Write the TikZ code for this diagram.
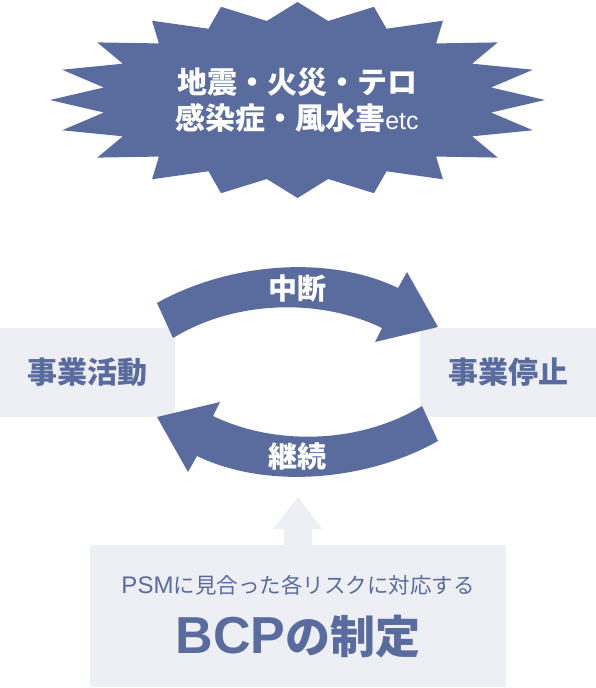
\documentclass[tikz,border=0pt]{standalone}
\usepackage{fontspec}
\newfontfamily\jpfont{Noto Sans CJK JP}
\newfontfamily\lsfont{Liberation Sans}
\definecolor{bcpblue}{RGB}{90,108,158}
\definecolor{bcppale}{RGB}{238,239,245}

\begin{document}
\begin{tikzpicture}[x=1pt,y=-1pt,
    pale/.style={fill=bcppale,inner sep=0pt},
    heavy/.style={font=\jpfont\bfseries\fontsize{30}{36}\selectfont,inner sep=0pt},
    light/.style={font=\jpfont\fontsize{21.5}{24}\selectfont,inner sep=0pt}]
    \useasboundingbox (0,0) rectangle (596,688);

    % hazard burst
    \begin{scope}[shift={(297.5,100)}]
        \fill[bcpblue] (0:247.5 and 98)
            \foreach \a in {0,18,...,342} { -- ({\a+9}:196 and 80) -- ({\a+18}:247.5 and 98) } -- cycle;
    \end{scope}
    \node[heavy,text=white,align=center] (hazard) at (297,100)
        {地震・火災・テロ\\感染症・風水害{\lsfont\mdseries\fontsize{25}{36}\selectfont etc}};

    % states
    \node[pale,minimum width=175pt,minimum height=89pt] (running) at (87.5,372.5) {};
    \node[heavy,text=bcpblue] (runninglabel) at (running) {事業活動};
    \node[pale,minimum width=176pt,minimum height=89pt] (stopped) at (508,372.5) {};
    \node[heavy,text=bcpblue] (stoppedlabel) at (stopped) {事業停止};

    % interrupt / resume arrows
    \fill[bcpblue] (157,303) .. controls (230,262) and (330,255) .. (398,288)
        -- (407,272) -- (438,327) -- (375,342) -- (382,328)
        .. controls (320,298) and (235,300) .. (173,338) -- cycle;
    \begin{scope}[rotate around={180:(297.5,372)}]
        \fill[bcpblue] (157,303) .. controls (230,262) and (330,255) .. (398,288)
            -- (407,272) -- (438,327) -- (375,342) -- (382,328)
            .. controls (320,298) and (235,300) .. (173,338) -- cycle;
    \end{scope}
    \node[heavy,text=white,font=\jpfont\bfseries\fontsize{29}{30}\selectfont] (cut) at (297,288) {中断};
    \node[heavy,text=white,font=\jpfont\bfseries\fontsize{29}{30}\selectfont] (keep) at (297,456) {継続};

    % plan
    \node[pale,minimum width=416pt,minimum height=142pt] (plan) at (298,616) {};
    \fill[bcppale] (284,546) -- (284,529) -- (273,529) -- (298,497) -- (322,529) -- (312,529) -- (312,546) -- cycle;
    \node[light,text=bcpblue] (planhead) at (298,585)
        {{\lsfont\fontsize{24}{24}\selectfont PSM}に見合った各リスクに対応する};
    \node[heavy,text=bcpblue,font=\jpfont\bfseries\fontsize{45}{52}\selectfont] (plantitle) at (298,637)
        {{\lsfont\bfseries\fontsize{52}{52}\selectfont BCP}の制定};
\end{tikzpicture}
\end{document}
